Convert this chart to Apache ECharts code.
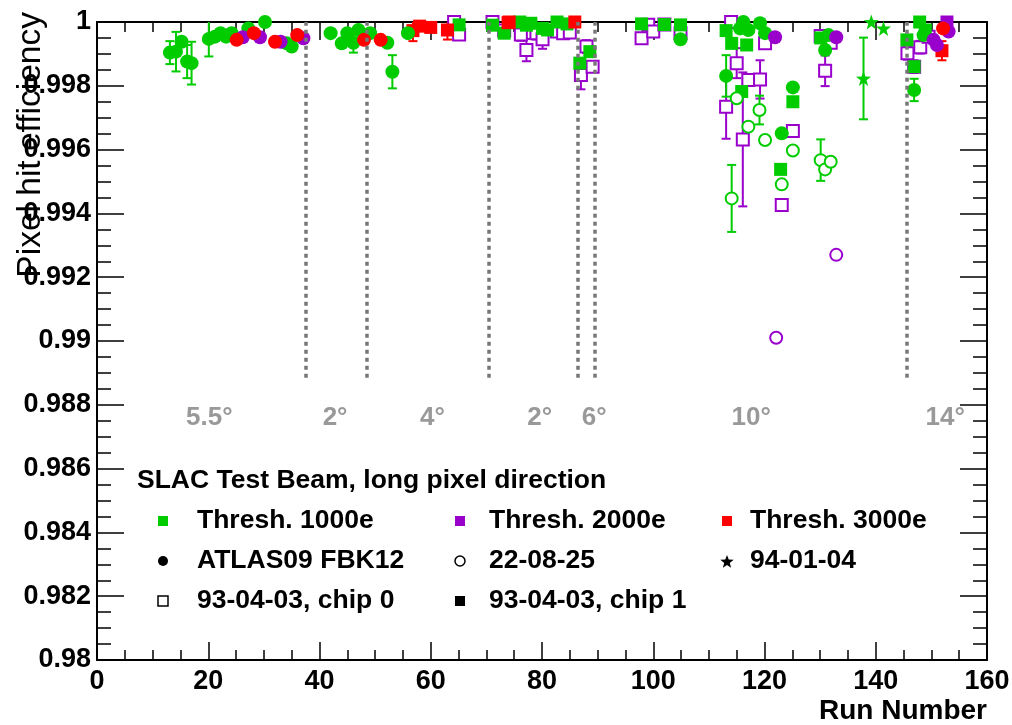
<!DOCTYPE html>
<html><head><meta charset="utf-8">
<script src="https://cdn.jsdelivr.net/npm/echarts@6/dist/echarts.min.js"></script>
<style>html,body{margin:0;padding:0;background:#fff}#c{width:1012px;height:725px}</style>
</head><body><div id="c"></div>
<script>
// ---- data: [run number, efficiency, error] ----
const fbk12_1000 = [[13.1,0.99904,0.00036],[14.2,0.99907,0.00062],[15.2,0.99938,0],[16.2,0.99876,0.00052],[17.0,0.99871,0.00067],[20.1,0.99947,0.00055],[21.2,0.99954,0],[22.2,0.99965,0],[23.2,0.99954,0],[24.2,0.99965,0],[27.2,0.9998,0],[30.2,1.0,0],[34.1,0.99933,0],[35.0,0.99923,0],[42.0,0.99965,0],[44.0,0.99933,0],[45.0,0.99965,0],[46.1,0.99935,0.00031],[47.0,0.99975,0],[49.1,0.99965,0],[52.2,0.99935,0],[53.1,0.99844,0.00052],[55.9,0.99965,0],[104.9,0.99946,0],[113.1,0.99831,0.00065],[115.6,0.9998,0],[116.2,1.0,0],[117.1,0.99975,0],[119.2,0.99996,0],[120.1,0.99965,0],[123.1,0.99651,0],[125.1,0.99795,0],[130.9,0.99912,0],[131.5,0.99959,0],[146.9,0.99787,0.00035],[148.6,0.99959,0]];
const fbk12_2000 = [[26.2,0.99952,0],[29.3,0.99952,0],[33.0,0.99938,0],[37.1,0.99949,0],[121.9,0.99952,0],[132.9,0.99952,0],[150.4,0.99944,0],[151.0,0.99928,0],[153.1,0.9997,0]];
const fbk12_3000 = [[25.1,0.99944,0],[28.2,0.99965,0],[32.0,0.99938,0],[36.0,0.99959,0],[48.0,0.99944,0],[51.0,0.99944,0],[152.1,0.9998,0]];
const d220825_1000 = [[114.1,0.99447,0.00105],[115.0,0.99761,0],[117.1,0.99672,0],[119.1,0.99724,0.00045],[120.1,0.9963,0],[123.1,0.99491,0],[125.1,0.99597,0.0001],[130.1,0.99567,0.00065],[130.9,0.99538,0],[131.9,0.99562,0.0001]];
const d220825_2000 = [[122.1,0.9901,0.0001],[132.9,0.9927,0]];
const d940104_1000 = [[137.8,0.99823,0.00128],[139.2,1.0,0],[141.4,0.9998,0]];
const chip0_2000 = [[64.2,1.0,0],[65.1,0.99961,0],[71.1,1.0,0],[73.2,0.99973,0],[76.2,0.99961,0.0002],[77.2,0.99912,0.00035],[79.0,0.99965,0.0002],[80.1,0.99946,0.0003],[82.7,0.9997,0],[83.8,0.99965,0],[85.0,0.99967,0],[87.0,0.99834,0.00045],[88.0,0.99923,0.0002],[89.1,0.9986,0],[97.9,0.99949,0],[99.1,0.99991,0],[100.0,0.9997,0],[102.0,0.99992,0],[104.9,0.99965,0],[113.1,0.99734,0.001],[114.0,1.0,0],[115.0,0.99871,0.00047],[116.1,0.99632,0.0021],[117.1,0.99818,0],[119.2,0.9982,0.0006],[120.1,0.99933,0],[123.1,0.99426,0],[125.1,0.99658,0.00008],[130.1,0.99956,0],[130.9,0.99847,0.00048],[131.9,0.99935,0],[145.7,0.99902,0.0002],[146.9,0.9986,0.0002],[148.0,0.99921,0.0002],[149.5,0.99954,0]];
const chip1_1000 = [[65.1,0.99991,0],[71.1,0.9999,0],[73.2,0.99965,0],[76.0,1.0,0],[77.2,0.9999,0],[78.0,0.99996,0],[80.1,0.9998,0],[81.0,0.99975,0],[82.7,1.0,0],[84.5,0.99994,0],[86.8,0.99871,0],[88.6,0.99907,0],[97.9,0.99994,0],[102.0,0.99992,0],[104.9,0.99991,0],[113.1,0.99973,0],[114.1,0.99933,0],[115.9,0.99782,0],[116.8,0.99928,0],[122.9,0.99538,0],[125.1,0.9975,0],[130.1,0.9995,0],[145.6,0.99944,0],[146.9,0.9986,0],[147.9,1.0,0],[148.9,0.99975,0]];
const chip1_2000 = [[152.8,1.0,0]];
const chip1_3000 = [[56.8,0.99973,0.00033],[58.0,0.99987,0],[60.0,0.99983,0],[63.0,0.99975,0.0003],[73.9,0.99998,0],[74.1,1.0,0],[85.9,1.0,0],[151.9,0.9991,0.0003]];
// angle regions
const boundaryRuns = [37.5, 48.5, 70.5, 86.5, 89.5, 145.5];
const angleLabels = ['5.5°','2°','4°','2°','6°','10°','14°'];
const angleRuns = [20.2, 42.8, 60.3, 79.6, 89.4, 117.6, 152.5];
const xTickLabels = ['0','20','40','60','80','100','120','140','160'];

// ---- styles ----
const FONT = '"Liberation Sans", Arial, Helvetica, sans-serif';
const GREEN = '#00cc00', PURPLE = '#9900cc', RED = '#ff0000';
const STAR = 'path://M0,-10 L2.35,-3.24 L9.51,-3.09 L3.8,1.24 L5.88,8.09 L0,4 L-5.88,8.09 L-3.8,1.24 L-9.51,-3.09 L-2.35,-3.24 Z';
const YMIN = 0.98, YMAX = 1.0;

function starPoints(cx, cy, r) {
  const pts = [];
  for (let i = 0; i < 10; i++) {
    const rr = (i % 2 === 0) ? r : r * 0.42;
    const a = -Math.PI / 2 + i * Math.PI / 5;
    pts.push([cx + rr * Math.cos(a), cy + rr * Math.sin(a)]);
  }
  return pts;
}

const groups = [
  {data: chip0_2000, color: PURPLE, symbol: 'emptyRect', size: 12, bw: 2},
  {data: chip1_1000, color: GREEN, symbol: 'rect', size: 13, bw: 0},
  {data: chip1_2000, color: PURPLE, symbol: 'rect', size: 13, bw: 0},
  {data: chip1_3000, color: RED, symbol: 'rect', size: 13, bw: 0},
  {data: d220825_1000, color: GREEN, symbol: 'emptyCircle', size: 12, bw: 2},
  {data: d220825_2000, color: PURPLE, symbol: 'emptyCircle', size: 12, bw: 2},
  {data: fbk12_1000, color: GREEN, symbol: 'circle', size: 14, bw: 0},
  {data: fbk12_2000, color: PURPLE, symbol: 'circle', size: 14, bw: 0},
  {data: fbk12_3000, color: RED, symbol: 'circle', size: 14, bw: 0},
  {data: d940104_1000, color: GREEN, symbol: STAR, size: 15, bw: 0}
];

function errRender(color) {
  return function (params, api) {
    const x = api.value(0), y = api.value(1), e = api.value(2);
    const children = [];
    if (e > 0) {
      const hi = Math.min(y + e, YMAX), lo = Math.max(y - e, YMIN);
      const t = api.coord([x, hi]), b = api.coord([x, lo]);
      const st = {stroke: color, lineWidth: 2};
      children.push({type: 'line', shape: {x1: t[0], y1: t[1], x2: b[0], y2: b[1]}, style: st});
      if (y + e < YMAX) children.push({type: 'line', shape: {x1: t[0]-4.5, y1: t[1], x2: t[0]+4.5, y2: t[1]}, style: st});
      children.push({type: 'line', shape: {x1: b[0]-4.5, y1: b[1], x2: b[0]+4.5, y2: b[1]}, style: st});
    }
    return {type: 'group', children: children};
  };
}

const series = [];
groups.forEach(function (g) {
  series.push({type: 'custom', data: g.data, encode: {x: 0, y: 1}, renderItem: errRender(g.color), z: 3, silent: true, animation: false});
});
groups.forEach(function (g) {
  series.push({type: 'scatter', data: g.data, encode: {x: 0, y: 1}, symbol: g.symbol, symbolSize: g.size,
    itemStyle: {color: g.color, borderColor: g.color, borderWidth: g.bw, opacity: 1},
    clip: false, silent: true, animation: false, z: 4});
});
// boundary dotted lines
series.push({type: 'line', data: [], silent: true, animation: false,
  markLine: {silent: true, symbol: ['none', 'none'], animation: false,
    label: {show: false},
    lineStyle: {color: '#777777', width: 3.5, type: [4, 4]},
    data: boundaryRuns.map(function (b) { return [{coord: [b, 0.98885]}, {coord: [b, YMAX]}]; })}});
// angle labels
series.push({type: 'scatter', symbolSize: 0, silent: true, animation: false, z: 5,
  data: angleRuns.map(function (r, i) { return [r, 0.98759, angleLabels[i]]; }),
  label: {show: true, position: 'inside', formatter: function (p) { return p.value[2]; },
    color: '#808080', fontFamily: FONT, fontWeight: 'bold', fontSize: 26}});

const labelStyle = {color: '#000', fontFamily: FONT, fontWeight: 'bold', fontSize: 27};
const tickStyle = {color: '#000', width: 1.5};
function mkAxis(extra) {
  return Object.assign({
    type: 'value',
    axisLine: {show: true, onZero: false, lineStyle: {color: '#000', width: 2}},
    splitLine: {show: false}
  }, extra);
}
const LF = 'bold 26.5px ' + FONT;

const option = {
  backgroundColor: '#fff',
  animation: false,
  grid: {left: 97, right: 25, top: 22, bottom: 65, outerBoundsMode: 'none'},
  xAxis: [
    mkAxis({position: 'bottom', min: 0, max: 160, interval: 20,
      axisTick: {inside: true, length: 18, lineStyle: tickStyle},
      minorTick: {show: true, splitNumber: 4, length: 10, lineStyle: tickStyle},
      axisLabel: Object.assign({margin: 8, formatter: function (v) { return xTickLabels[Math.round(v / 20)]; }}, labelStyle)}),
    mkAxis({position: 'top', min: 0, max: 160, interval: 20,
      axisTick: {inside: true, length: 18, lineStyle: tickStyle},
      minorTick: {show: true, splitNumber: 4, length: 10, lineStyle: tickStyle},
      axisLabel: {show: false}})
  ],
  yAxis: [
    mkAxis({position: 'left', min: YMIN, max: YMAX, interval: 0.002,
      axisTick: {inside: true, length: 27, lineStyle: tickStyle},
      minorTick: {show: true, splitNumber: 4, length: 14, lineStyle: tickStyle},
      axisLabel: Object.assign({margin: 6}, labelStyle)}),
    mkAxis({position: 'right', min: YMIN, max: YMAX, interval: 0.002,
      axisTick: {inside: true, length: 27, lineStyle: tickStyle},
      minorTick: {show: true, splitNumber: 4, length: 14, lineStyle: tickStyle},
      axisLabel: {show: false}})
  ],
  series: series,
  graphic: [
    {type: 'text', x: 31, y: 12, rotation: Math.PI / 2, z: 10,
      style: {text: 'Pixel hit efficiency', font: 'normal 33.5px ' + FONT, fill: '#000', textAlign: 'right', textVerticalAlign: 'middle'}},
    {type: 'text', x: 987, y: 711, z: 10,
      style: {text: 'Run Number', font: 'bold 28px ' + FONT, fill: '#000', textAlign: 'right', textVerticalAlign: 'middle'}},
    {type: 'text', x: 137, y: 481, z: 10,
      style: {text: 'SLAC Test Beam, long pixel direction', font: LF, fill: '#000', textAlign: 'left', textVerticalAlign: 'middle'}},
    {type: 'rect', shape: {x: 158, y: 516, width: 10, height: 10}, style: {fill: GREEN}},
    {type: 'text', x: 197, y: 521, style: {text: 'Thresh. 1000e', font: LF, fill: '#000', textVerticalAlign: 'middle'}},
    {type: 'rect', shape: {x: 455, y: 516, width: 10, height: 10}, style: {fill: PURPLE}},
    {type: 'text', x: 489, y: 521, style: {text: 'Thresh. 2000e', font: LF, fill: '#000', textVerticalAlign: 'middle'}},
    {type: 'rect', shape: {x: 722, y: 516, width: 10, height: 10}, style: {fill: RED}},
    {type: 'text', x: 750, y: 521, style: {text: 'Thresh. 3000e', font: LF, fill: '#000', textVerticalAlign: 'middle'}},
    {type: 'circle', shape: {cx: 163, cy: 561, r: 5}, style: {fill: '#000'}},
    {type: 'text', x: 197, y: 561, style: {text: 'ATLAS09 FBK12', font: LF, fill: '#000', textVerticalAlign: 'middle'}},
    {type: 'circle', shape: {cx: 460, cy: 561, r: 5}, style: {fill: '#fff', stroke: '#000', lineWidth: 1.5}},
    {type: 'text', x: 489, y: 561, style: {text: '22-08-25', font: LF, fill: '#000', textVerticalAlign: 'middle'}},
    {type: 'polygon', shape: {points: starPoints(727, 562, 7)}, style: {fill: '#000'}},
    {type: 'text', x: 750, y: 561, style: {text: '94-01-04', font: LF, fill: '#000', textVerticalAlign: 'middle'}},
    {type: 'rect', shape: {x: 158, y: 596, width: 10, height: 10}, style: {fill: '#fff', stroke: '#000', lineWidth: 1.5}},
    {type: 'text', x: 197, y: 601, style: {text: '93-04-03, chip 0', font: LF, fill: '#000', textVerticalAlign: 'middle'}},
    {type: 'rect', shape: {x: 455, y: 596, width: 10, height: 10}, style: {fill: '#000'}},
    {type: 'text', x: 489, y: 601, style: {text: '93-04-03, chip 1', font: LF, fill: '#000', textVerticalAlign: 'middle'}}
  ]
};
const chart = echarts.init(document.getElementById('c'), null, {renderer: 'canvas'});
chart.setOption(option);
</script></body></html>
